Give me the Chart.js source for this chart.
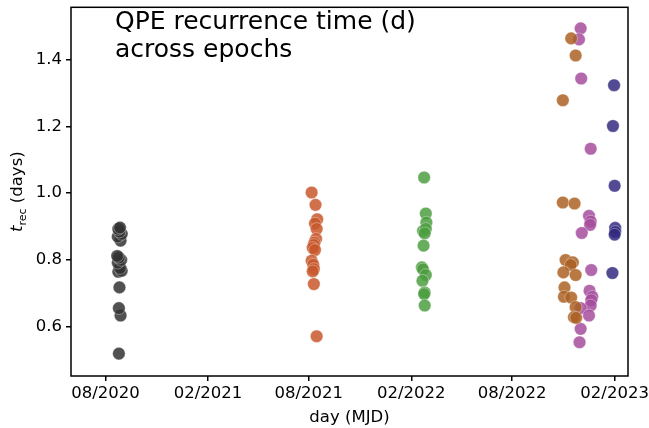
<!DOCTYPE html>
<html>
<head>
<meta charset="utf-8">
<script src="https://cdn.jsdelivr.net/npm/chart.js@4.4.0/dist/chart.umd.min.js"></script>
<style>
  html, body { margin: 0; padding: 0; background: #fff; }
  #wrap { width: 649px; height: 428px; }
</style>
</head>
<body>
<div id="wrap"><canvas id="qpe_chart" width="649" height="428"></canvas></div>
<script>
// Recurrence times (days) per observing epoch, x = MJD
var epoch1Mjd  = [59086, 59089, 59086, 59087, 59085, 59091, 59088, 59084, 59090, 59086, 59083, 59089, 59084, 59091, 59087, 59085, 59088];
var epoch1Trec = [0.520, 0.634, 0.656, 0.718, 0.765, 0.768, 0.776, 0.792, 0.800, 0.807, 0.812, 0.858, 0.870, 0.878, 0.885, 0.893, 0.897];

var epoch2Mjd  = [59432, 59439, 59442, 59438, 59441, 59440, 59437, 59436, 59434, 59438, 59432, 59435, 59436, 59434, 59436, 59441];
var epoch2Trec = [1.002, 0.965, 0.922, 0.909, 0.893, 0.863, 0.852, 0.845, 0.836, 0.830, 0.798, 0.786, 0.773, 0.766, 0.728, 0.572];

var epoch3Mjd  = [59634, 59637, 59638, 59632, 59637, 59635, 59633, 59630, 59632, 59637, 59631, 59635, 59634, 59635];
var epoch3Trec = [1.047, 0.939, 0.912, 0.887, 0.893, 0.880, 0.843, 0.778, 0.772, 0.755, 0.738, 0.703, 0.698, 0.664];

var epoch4Mjd  = [59898, 59906, 59883, 59883, 59904, 59888, 59901, 59897, 59884, 59906, 59886, 59885, 59898, 59906, 59903, 59907];
var epoch4Trec = [1.463, 1.412, 1.278, 0.972, 0.969, 0.800, 0.793, 0.785, 0.763, 0.755, 0.718, 0.690, 0.688, 0.659, 0.629, 0.627];

var epoch5Mjd  = [59915, 59912, 59916, 59933, 59930, 59933, 59932, 59917, 59934, 59931, 59936, 59934, 59933, 59915, 59930, 59915, 59913];
var epoch5Trec = [1.493, 1.460, 1.343, 1.133, 0.932, 0.915, 0.905, 0.881, 0.770, 0.708, 0.690, 0.680, 0.664, 0.656, 0.634, 0.594, 0.554];

var epoch6Mjd  = [59975, 59973, 59976, 59977, 59977, 59976, 59972];
var epoch6Trec = [1.323, 1.201, 1.022, 0.896, 0.884, 0.876, 0.761];

var epochColors = [
  "rgba(50, 50, 50, 0.85)",
  "rgba(200, 88, 44, 0.85)",
  "rgba(78, 158, 66, 0.85)",
  "rgba(172, 98, 36, 0.85)",
  "rgba(166, 78, 158, 0.85)",
  "rgba(52, 42, 128, 0.85)"
];

// x ticks: first of month, in MJD
var xTickMjd = [59062, 59246, 59427, 59611, 59792, 59976];
var xTickLabels = ["08/2020", "02/2021", "08/2021", "02/2022", "08/2022", "02/2023"];
var yTicks = [0.6, 0.8, 1.0, 1.2, 1.4];

function toPoints(xs, ys) {
  return xs.map(function (x, i) { return { x: x, y: ys[i] }; });
}

var epochs = [
  [epoch1Mjd, epoch1Trec], [epoch2Mjd, epoch2Trec], [epoch3Mjd, epoch3Trec],
  [epoch4Mjd, epoch4Trec], [epoch5Mjd, epoch5Trec], [epoch6Mjd, epoch6Trec]
];

var datasets = epochs.map(function (e, i) {
  return {
    data: toPoints(e[0], e[1]),
    backgroundColor: epochColors[i],
    borderColor: "rgba(255, 255, 255, 0.35)",
    borderWidth: 1,
    pointRadius: 6.3,
    pointHoverRadius: 6.3
  };
});

var FONT = "'DejaVu Sans', sans-serif";

// keep the plot box fixed: no extra room for overhanging tick labels
function noPad(scale) {
  scale.paddingLeft = 0;
  scale.paddingRight = 0;
  scale.paddingTop = 0;
  scale.paddingBottom = 0;
}

// frame, title text and y label with subscript
var decorations = {
  id: "decorations",
  afterDraw: function (chart) {
    var ctx = chart.ctx, a = chart.chartArea;
    ctx.save();
    ctx.strokeStyle = "#000";
    ctx.lineWidth = 1.5;
    ctx.strokeRect(a.left, a.top, a.right - a.left, a.bottom - a.top);

    ctx.fillStyle = "#000";
    ctx.font = "25px " + FONT;
    ctx.textBaseline = "alphabetic";
    ctx.textAlign = "left";
    ctx.fillText("QPE recurrence time (d)", 115, 29);
    ctx.fillText("across epochs", 115, 57);

    // t_rec (days), rotated
    var big = "16.5px " + FONT, small = "11px " + FONT;
    ctx.translate(22, (a.top + a.bottom) / 2);
    ctx.rotate(-Math.PI / 2);
    ctx.font = "italic " + big;
    var wT = ctx.measureText("t").width;
    ctx.font = small;
    var wSub = ctx.measureText("rec").width;
    ctx.font = big;
    var wRest = ctx.measureText(" (days)").width;
    var x0 = -(wT + wSub + wRest) / 2;
    ctx.font = "italic " + big;
    ctx.fillText("t", x0, 0);
    ctx.font = small;
    ctx.fillText("rec", x0 + wT, 4);
    ctx.font = big;
    ctx.fillText(" (days)", x0 + wT + wSub, 0);
    ctx.restore();
  }
};

var ctx = document.getElementById("qpe_chart");
var chart = new Chart(ctx, {
  type: "scatter",
  data: { datasets: datasets },
  plugins: [decorations],
  options: {
    responsive: false,
    animation: false,
    layout: { padding: { top: 6, right: 21, left: 0, bottom: 0 } },
    plugins: { legend: { display: false }, tooltip: { enabled: false } },
    scales: {
      x: {
        type: "linear",
        min: 59000,
        max: 60000,
        afterBuildTicks: function (scale) {
          scale.ticks = xTickMjd.map(function (v) { return { value: v }; });
        },
        afterFit: function (scale) { scale.height = 52; noPad(scale); },
        ticks: {
          color: "#000",
          font: { family: FONT, size: 16.5 },
          padding: 3,
          maxRotation: 0,
          autoSkip: false,
          callback: function (value, index) { return xTickLabels[index]; }
        },
        grid: { drawOnChartArea: false, drawTicks: true, tickLength: 5, color: "#000", lineWidth: 1.5 },
        border: { display: false },
        title: { display: true, text: "day (MJD)", color: "#000", font: { family: FONT, size: 16.5 }, padding: { top: 2, bottom: 0 } }
      },
      y: {
        min: 0.453,
        max: 1.556,
        afterBuildTicks: function (scale) {
          scale.ticks = yTicks.map(function (v) { return { value: v }; });
        },
        afterFit: function (scale) { scale.width = 71; noPad(scale); },
        ticks: {
          color: "#000",
          font: { family: FONT, size: 16.5 },
          padding: 4,
          callback: function (value) { return value.toFixed(1); }
        },
        grid: { drawOnChartArea: false, drawTicks: true, tickLength: 5, color: "#000", lineWidth: 1.5 },
        border: { display: false }
      }
    }
  }
});
</script>
</body>
</html>
